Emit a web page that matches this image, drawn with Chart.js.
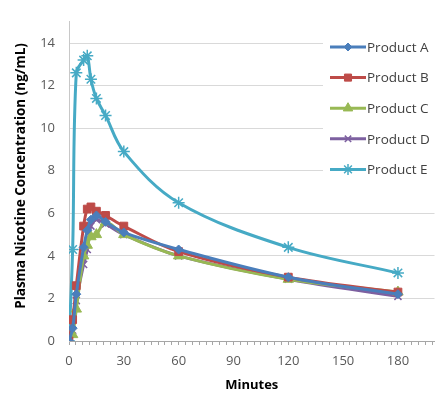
<!DOCTYPE html>
<html>
<head>
<meta charset="utf-8">
<script src="https://cdn.jsdelivr.net/npm/chart.js@4/dist/chart.umd.min.js"></script>
<style>
  html, body { margin: 0; padding: 0; background: #fff; overflow: hidden; }
  #wrap { width: 435px; height: 397px; overflow: hidden; }
</style>
</head>
<body>
<div id="wrap"><canvas id="pk-chart" width="442" height="397"></canvas></div>
<script>
// sampling times (min) and plasma nicotine (ng/mL) per product
const minutes = [0, 2, 4, 8, 10, 12, 15, 20, 30, 60, 120, 180];
const productA = [0, 0.6, 2.2, 4.4, 5.2, 5.7, 5.9, 5.6, 5.1, 4.3, 3.0, 2.2];
const productB = [0, 1.0, 2.6, 5.4, 6.2, 6.3, 6.1, 5.9, 5.4, 4.2, 3.0, 2.3];
const productC = [0, 0.3, 1.5, 4.0, 4.5, 4.9, 5.0, 5.6, 5.0, 4.0, 2.9, 2.3];
const productD = [0, 0.5, 1.9, 3.6, 4.3, 5.4, 5.7, 5.5, 5.0, 4.0, 2.9, 2.1];
const productE = [0, 4.3, 12.6, 13.2, 13.4, 12.3, 11.4, 10.6, 8.9, 6.5, 4.4, 3.2];

const seriesNames = ['Product A', 'Product B', 'Product C', 'Product D', 'Product E'];
const seriesValues = [productA, productB, productC, productD, productE];
const seriesColors = ['#4a7ebb', '#be4b48', '#98b954', '#7d60a0', '#46aac5'];
const markerStyles = ['rectRot', 'rect', 'triangle', 'crossRot', 'star'];
const markerSizes = [4.5, 5.5, 6, 5, 6];

const yTicks = [0, 2, 4, 6, 8, 10, 12, 14];
const xLabels = [0, 30, 60, 90, 120, 150, 180];

const tickFont = { family: 'Open Sans', size: 13 };
const tickColor = '#595959';

const datasets = seriesNames.map((name, i) => ({
    label: name,
    data: minutes.map((m, j) => ({ x: m, y: seriesValues[i][j] })),
    borderColor: seriesColors[i],
    backgroundColor: seriesColors[i],
    borderWidth: 3,
    pointStyle: markerStyles[i],
    pointRadius: markerSizes[i],
    pointBorderWidth: (markerStyles[i] === 'crossRot' || markerStyles[i] === 'star') ? 1.5 : 1,
    tension: 0.35,
    fill: false
}));

// white legend box sitting on top of the plot
const boxLegend = {
    id: 'boxLegend',
    afterDraw(chart) {
        const ctx = chart.ctx;
        ctx.save();
        ctx.fillStyle = '#fff';
        ctx.fillRect(323, 36, 130, 164);
        ctx.font = '13.5px "Open Sans"';
        ctx.textBaseline = 'middle';
        ctx.textAlign = 'left';
        seriesNames.forEach((name, i) => {
            const y = 47 + i * 30.6;
            ctx.strokeStyle = seriesColors[i];
            ctx.fillStyle = seriesColors[i];
            ctx.lineWidth = 3;
            ctx.beginPath();
            ctx.moveTo(330, y);
            ctx.lineTo(366, y);
            ctx.stroke();
            ctx.lineWidth = datasets[i].pointBorderWidth;
            Chart.helpers.drawPoint(ctx, {
                pointStyle: markerStyles[i],
                radius: markerSizes[i] - 0.5,
                rotation: 0,
                borderWidth: datasets[i].pointBorderWidth
            }, 348, y);
            ctx.fillStyle = '#404040';
            ctx.fillText(name, 367, y + 1);
        });
        ctx.restore();
    }
};

// axis titles
const axisTitles = {
    id: 'axisTitles',
    afterDraw(chart) {
        const ctx = chart.ctx;
        const area = chart.chartArea;
        ctx.save();
        ctx.fillStyle = '#000';
        ctx.font = 'bold 13px "Open Sans"';
        ctx.textAlign = 'center';
        ctx.textBaseline = 'middle';
        ctx.fillText('Minutes', (area.left + area.right) / 2, 385);
        ctx.font = 'bold 13.5px "Open Sans"';
        ctx.translate(21, 176);
        ctx.rotate(-Math.PI / 2);
        ctx.fillText('Plasma Nicotine Concentration (ng/mL)', 0, 0);
        ctx.restore();
    }
};

const chart = new Chart(document.getElementById('pk-chart'), {
    type: 'line',
    data: { datasets },
    options: {
        responsive: false,
        animation: false,
        layout: { padding: { top: 9, right: 1, left: 0, bottom: 0 } },
        plugins: {
            legend: { display: false },
            tooltip: { enabled: false }
        },
        scales: {
            x: {
                type: 'linear',
                min: 0,
                max: 200,
                afterBuildTicks: (scale) => {
                    // minor tick marks every 3.75 min, labels every 30 min
                    scale.ticks = [];
                    for (let v = 0; v < 200; v += 3.75) scale.ticks.push({ value: v });
                },
                afterFit: (scale) => { scale.height = 56; },
                ticks: {
                    autoSkip: false,
                    maxRotation: 0,
                    padding: 8,
                    font: tickFont,
                    color: tickColor,
                    callback: (v) => xLabels.includes(v) ? String(v) : ''
                },
                grid: {
                    drawOnChartArea: false,
                    tickLength: 4,
                    color: '#a6a6a6'
                },
                border: { color: '#a6a6a6', width: 1 }
            },
            y: {
                min: 0,
                max: 15,
                afterBuildTicks: (scale) => {
                    scale.ticks = yTicks.map(v => ({ value: v }));
                },
                afterFit: (scale) => { scale.width = 69; },
                ticks: {
                    padding: 14,
                    font: tickFont,
                    color: tickColor
                },
                grid: {
                    color: '#d9d9d9',
                    drawTicks: false
                },
                border: { color: '#c8c8c8', width: 1 }
            }
        }
    },
    plugins: [axisTitles, boxLegend]
});
</script>
</body>
</html>
